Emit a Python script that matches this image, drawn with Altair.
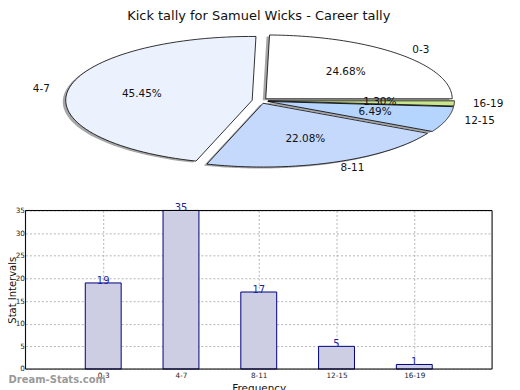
import altair as alt
import pandas as pd

# ---------------- data ----------------
categories = ["0-3", "4-7", "8-11", "12-15", "16-19"]
counts = [19, 35, 17, 5, 1]
slice_colors = ["#ffffff", "#ebf2fe", "#c5d9fd", "#b5d5fe", "#c8e48c"]
y_ticks = [0, 5, 10, 15, 20, 25, 30, 35]

title_text = "Kick tally for Samuel Wicks - Career tally"
x_title = "Frequency"
y_title = "Stat Intervals"
watermark = "Dream-Stats.com"

# ---------------- layout constants (pixels) ----------------
PW, PH = 468, 159          # bar plot area size
LEFT, TOP = 25, 210        # page position of the bar plot area
CX, CY = 260.3, 99.9       # pie centre (page px)
RX, RY = 187.0, 64.0       # pie radii (ellipse)
EXPLODE = 8.0
SQ = RY / RX
N = 72
SHX, SHY = -3.0, 1.5       # shadow offset
FONT = "DejaVu Sans"

steps = list(range(-1, N + 1))
pie_df = pd.DataFrame({
    "cat": categories,
    "val": counts,
    "idx": list(range(len(categories))),
    "step": [steps] * len(categories),
})

px_x = alt.Scale(domain=[LEFT, LEFT + PW], nice=False, zero=False)
px_y = alt.Scale(domain=[TOP, TOP + PH], nice=False, zero=False, reverse=True)

base = (
    alt.Chart(pie_df)
    .transform_joinaggregate(total="sum(val)")
    .transform_window(cum="sum(val)", sort=[alt.SortField("idx")], frame=[None, 0])
    .transform_calculate(a0="2*PI*(datum.cum - datum.val)/datum.total")
    .transform_calculate(a1="2*PI*datum.cum/datum.total")
    .transform_calculate(mid="(datum.a0 + datum.a1)/2")
    .transform_calculate(ox=f"{CX} + {EXPLODE}*cos(datum.mid)")
    .transform_calculate(oy=f"{CY} - {EXPLODE * SQ}*sin(datum.mid)")
)

poly = (
    base.transform_flatten(["step"])
    .transform_calculate(ang=f"datum.a0 + (datum.a1 - datum.a0) * max(datum.step, 0) / {N}")
    .transform_calculate(px=f"datum.step < 0 ? datum.ox : datum.ox + {RX}*cos(datum.ang)")
    .transform_calculate(py=f"datum.step < 0 ? datum.oy : datum.oy - {RY}*sin(datum.ang)")
    .transform_calculate(sx=f"datum.px + {SHX}", sy=f"datum.py + {SHY}")
)

shadow = poly.mark_line(
    interpolate="linear-closed", fill="#4d4d4d", fillOpacity=0.5, strokeOpacity=0
).encode(
    x=alt.X("sx:Q", scale=px_x, axis=None),
    y=alt.Y("sy:Q", scale=px_y, axis=None),
    order=alt.Order("step:Q"),
    detail="cat:N",
)

wedges = poly.mark_line(
    interpolate="linear-closed", stroke="black", strokeWidth=0.8
).encode(
    x=alt.X("px:Q", scale=px_x, axis=None),
    y=alt.Y("py:Q", scale=px_y, axis=None),
    order=alt.Order("step:Q"),
    detail="cat:N",
    fill=alt.Fill("cat:N", scale=alt.Scale(domain=categories, range=slice_colors), legend=None),
)

lbl = (
    base.transform_calculate(lx=f"datum.ox + {1.1 * RX}*cos(datum.mid)")
    .transform_calculate(ly=f"datum.oy - {1.1 * RY}*sin(datum.mid)")
    .transform_calculate(tx=f"datum.ox + {0.6 * RX}*cos(datum.mid)")
    .transform_calculate(ty=f"datum.oy - {0.6 * RY}*sin(datum.mid)")
    .transform_calculate(pct="format(100*datum.val/datum.total, '.2f') + '%'")
)

pct_text = lbl.mark_text(font=FONT, fontSize=10.5, color="#111", baseline="middle", align="center").encode(
    x=alt.X("tx:Q", scale=px_x, axis=None),
    y=alt.Y("ty:Q", scale=px_y, axis=None),
    text="pct:N",
)
cat_right = lbl.transform_filter("cos(datum.mid) >= 0").mark_text(
    font=FONT, fontSize=10.5, color="#111", baseline="middle", align="left"
).encode(
    x=alt.X("lx:Q", scale=px_x, axis=None),
    y=alt.Y("ly:Q", scale=px_y, axis=None),
    text="cat:N",
)
cat_left = lbl.transform_filter("cos(datum.mid) < 0").mark_text(
    font=FONT, fontSize=10.5, color="#111", baseline="middle", align="right"
).encode(
    x=alt.X("lx:Q", scale=px_x, axis=None),
    y=alt.Y("ly:Q", scale=px_y, axis=None),
    text="cat:N",
)

pie = alt.layer(shadow, wedges, pct_text, cat_right, cat_left)

# ---------------- bar chart ----------------
bar_df = pd.DataFrame({"cat": categories, "val": counts})

xenc = alt.X(
    "cat:N",
    sort=categories,
    scale=alt.Scale(type="point", padding=1),
    axis=alt.Axis(
        title=x_title, titleFont=FONT, titleFontSize=10.5, titleFontWeight="normal",
        titleColor="#111", titlePadding=4,
        labelAngle=0, labelFont=FONT, labelFontSize=7.3, labelColor="#222", labelPadding=3,
        labelOverlap=False,
        ticks=False, domain=False, grid=True, gridDash=[2, 2], gridColor="#b5b5b5",
    ),
)
yenc = alt.Y(
    "val:Q",
    scale=alt.Scale(domain=[0, 35], nice=False),
    axis=alt.Axis(
        values=y_ticks, tickCount=8, labelOverlap=False, labelFlush=False,
        title=y_title, titleFont=FONT, titleFontSize=10,
        titleFontWeight="normal", titleColor="#111", titleX=-10.2, titleY=PH / 2,
        titleBaseline="alphabetic", titleAngle=270,
        labelFont=FONT, labelFontSize=7.3, labelColor="#222", labelPadding=1,
        ticks=False, domain=False, grid=True, gridDash=[2, 2], gridColor="#b5b5b5",
    ),
)

bars = alt.Chart(bar_df).mark_bar(
    size=36, fill="#cdcde4", stroke="#000080", strokeWidth=1
).encode(x=xenc, y=yenc)

bar_vals = alt.Chart(bar_df).mark_text(
    font=FONT, fontSize=10, color="#2323a0", baseline="alphabetic", align="center", dy=1
).encode(x=alt.X("cat:N", sort=categories), y="val:Q", text="val:Q")

frame = alt.Chart(pd.DataFrame({"t": [0]})).mark_rect(
    fill="transparent", stroke="black", strokeWidth=1
).encode(x=alt.value(0), x2=alt.value(PW), y=alt.value(0), y2=alt.value(PH))

wm = alt.Chart(pd.DataFrame({"t": [watermark]})).mark_text(
    font=FONT, fontSize=10, fontWeight="bold", color="#9a9a9a", align="left", baseline="alphabetic"
).encode(text="t:N", x=alt.value(8 - LEFT), y=alt.value(383.5 - TOP))

barlayer = alt.layer(bars, bar_vals, frame, wm)

chart = (
    alt.layer(barlayer, pie)
    .resolve_scale(x="independent", y="independent", fill="independent")
    .properties(
        width=PW,
        height=PH,
        autosize="none",
        padding={"left": LEFT - 8 + 0.5, "top": TOP - 8 + 0.5, "right": 20, "bottom": 25},
        title=alt.TitleParams(
            title_text, font=FONT, fontSize=13, fontWeight="normal", color="#111",
            anchor="middle", offset=10,
        ),
    )
    .configure_view(stroke=None)
    .configure(background="white")
)

chart.save("out.html", embed_options={"renderer": "svg", "actions": False})
